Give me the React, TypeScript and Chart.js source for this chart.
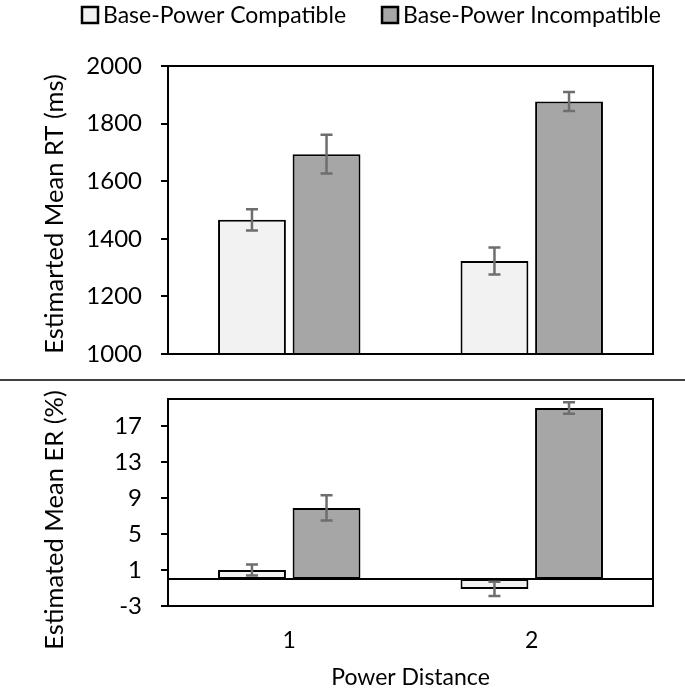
import React, { useEffect, useRef } from "react";
import { Chart, registerables } from "chart.js";
Chart.register(...registerables);

// ---------- data ----------
const CATEGORIES = ["1", "2"];
const SERIES_LABELS = ["Base-Power Compatible", "Base-Power Incompatible"];

const RT_COMPATIBLE = [1466, 1323];
const RT_INCOMPATIBLE = [1694, 1877];
const RT_COMPATIBLE_ERR = [37, 47];
const RT_INCOMPATIBLE_ERR = [67, 33];

const ER_COMPATIBLE = [1.0, -1.1];
const ER_INCOMPATIBLE = [7.9, 19.0];
const ER_COMPATIBLE_ERR = [0.6, 0.8];
const ER_INCOMPATIBLE_ERR = [1.4, 0.65];

const RT_TICKS = [1000, 1200, 1400, 1600, 1800, 2000];
const ER_TICKS = [-3, 1, 5, 9, 13, 17];
const RT_RANGE = [1000, 2000];
const ER_RANGE = [-3, 20];

const RT_TITLE = "Estimarted Mean RT (ms)";
const ER_TITLE = "Estimated Mean ER (%)";
const X_TITLE = "Power Distance";

// ---------- styles ----------
const FONT = "Lato, 'Open Sans', sans-serif";
const TEXT = "#000000";
const FILLS = ["#f2f2f2", "#a6a6a6"];

// frame + zero line
const decorPlugin = {
  id: "decor",
  afterDatasetsDraw(chart: any, _a: any, opts: any) {
    const { ctx, chartArea: ca } = chart;
    ctx.save();
    ctx.strokeStyle = "#000";
    ctx.lineWidth = 2;
    if (opts.zeroLine) {
      const y0 = chart.scales.y.getPixelForValue(0);
      ctx.beginPath();
      ctx.moveTo(ca.left, y0);
      ctx.lineTo(ca.right, y0);
      ctx.stroke();
    }
    ctx.strokeRect(ca.left, ca.top, ca.right - ca.left, ca.bottom - ca.top);
    ctx.restore();
  },
};

const errorBarPlugin = {
  id: "errorBars",
  afterDatasetsDraw(chart: any) {
    const { ctx } = chart;
    const y = chart.scales.y;
    ctx.save();
    ctx.strokeStyle = "#6e6e6e";
    ctx.lineWidth = 2.5;
    chart.data.datasets.forEach((ds: any, i: number) => {
      const meta = chart.getDatasetMeta(i);
      const errs = ds.errorBars || [];
      meta.data.forEach((bar: any, j: number) => {
        const v = ds.data[j];
        const e = errs[j];
        if (e == null) return;
        const yHi = y.getPixelForValue(v + e);
        const yLo = y.getPixelForValue(v - e);
        const x = bar.x;
        const cap = 6;
        ctx.beginPath();
        ctx.moveTo(x, yHi);
        ctx.lineTo(x, yLo);
        ctx.moveTo(x - cap, yHi);
        ctx.lineTo(x + cap, yHi);
        ctx.moveTo(x - cap, yLo);
        ctx.lineTo(x + cap, yLo);
        ctx.stroke();
      });
    });
    ctx.restore();
  },
};

const legendPlugin = {
  id: "customLegend",
  afterDraw(chart: any, _a: any, opts: any) {
    if (!opts.show) return;
    const { ctx } = chart;
    ctx.save();
    ctx.font = `23px ${FONT}`;
    ctx.textBaseline = "middle";
    ctx.textAlign = "left";
    let x = opts.x;
    const yc = opts.y;
    const box = 16;
    chart.data.datasets.forEach((ds: any) => {
      ctx.fillStyle = ds.backgroundColor;
      ctx.fillRect(x, yc - box / 2, box, box);
      ctx.strokeStyle = "#000";
      ctx.lineWidth = 2.5;
      ctx.strokeRect(x, yc - box / 2, box, box);
      ctx.fillStyle = TEXT;
      ctx.fillText(ds.label, x + box + 5, yc + 1);
      x += box + 5 + ctx.measureText(ds.label).width + 36;
    });
    ctx.restore();
  },
};

const sideTitlePlugin = {
  id: "sideTitle",
  afterDraw(chart: any, _a: any, opts: any) {
    if (!opts.text) return;
    const { ctx } = chart;
    ctx.save();
    ctx.font = `25.5px ${FONT}`;
    ctx.fillStyle = TEXT;
    ctx.textAlign = "center";
    ctx.textBaseline = "middle";
    ctx.translate(opts.x, opts.y);
    ctx.rotate(-Math.PI / 2);
    ctx.fillText(opts.text, 0, 0);
    ctx.restore();
  },
};

function makeDatasets(a: number[], b: number[], ea: number[], eb: number[]) {
  return [a, b].map((d, i) => ({
    label: SERIES_LABELS[i],
    data: d,
    errorBars: i === 0 ? ea : eb,
    backgroundColor: FILLS[i],
    borderColor: "#000",
    borderWidth: 2,
    borderSkipped: false,
    categoryPercentage: 0.615,
    barPercentage: 0.91,
  }));
}

function yAxis(range: number[], ticks: number[]) {
  return {
    min: range[0],
    max: range[1],
    afterBuildTicks: (s: any) => {
      s.ticks = ticks.map((v) => ({ value: v }));
    },
    afterFit: (s: any) => {
      s.width = 168;
      s.paddingTop = 0;
      s.paddingBottom = 0;
    },
    border: { display: false },
    grid: {
      drawOnChartArea: false,
      drawTicks: true,
      tickLength: 7,
      color: "#000",
      lineWidth: 2,
    },
    ticks: {
      padding: 19,
      color: TEXT,
      font: { size: 24, family: FONT },
      callback: (v: any) => String(v),
    },
  };
}

export default function App() {
  const topRef = useRef<HTMLCanvasElement>(null);
  const botRef = useRef<HTMLCanvasElement>(null);

  useEffect(() => {
    Chart.defaults.font.family = FONT;
    Chart.defaults.color = TEXT;

    const top = new Chart(topRef.current as HTMLCanvasElement, {
      type: "bar",
      data: {
        labels: CATEGORIES,
        datasets: makeDatasets(RT_COMPATIBLE, RT_INCOMPATIBLE, RT_COMPATIBLE_ERR, RT_INCOMPATIBLE_ERR) as any,
      },
      options: {
        responsive: false,
        animation: false,
        layout: { padding: { top: 66, right: 32, bottom: 24, left: 0 } },
        scales: {
          x: { display: false },
          y: yAxis(RT_RANGE, RT_TICKS) as any,
        },
        plugins: {
          legend: { display: false },
          tooltip: { enabled: false },
          decor: { zeroLine: false },
          customLegend: { show: true, x: 82, y: 15 },
          sideTitle: { text: RT_TITLE, x: 55, y: 214 },
        } as any,
      },
      plugins: [decorPlugin, errorBarPlugin, legendPlugin, sideTitlePlugin],
    });

    const bot = new Chart(botRef.current as HTMLCanvasElement, {
      type: "bar",
      data: {
        labels: CATEGORIES,
        datasets: makeDatasets(ER_COMPATIBLE, ER_INCOMPATIBLE, ER_COMPATIBLE_ERR, ER_INCOMPATIBLE_ERR) as any,
      },
      options: {
        responsive: false,
        animation: false,
        layout: { padding: { top: 18, right: 32, bottom: 0, left: 0 } },
        scales: {
          x: {
            afterFit: (s: any) => {
              s.height = 85;
              s.paddingLeft = 0;
              s.paddingRight = 0;
            },
            border: { display: false },
            grid: { display: false },
            ticks: { padding: 13, color: TEXT, font: { size: 23, family: FONT } },
            title: {
              display: true,
              text: X_TITLE,
              color: TEXT,
              font: { size: 23, family: FONT },
              padding: { top: 0, bottom: 0 },
            },
          },
          y: yAxis(ER_RANGE, ER_TICKS) as any,
        },
        plugins: {
          legend: { display: false },
          tooltip: { enabled: false },
          decor: { zeroLine: true },
          customLegend: { show: false },
          sideTitle: { text: ER_TITLE, x: 55, y: 139 },
        } as any,
      },
      plugins: [decorPlugin, errorBarPlugin, legendPlugin, sideTitlePlugin],
    });

    return () => {
      top.destroy();
      bot.destroy();
    };
  }, []);

  return (
    <div style={{ position: "fixed", left: 0, top: 0, width: 685, height: 691, background: "#fff" }}>
      <canvas ref={topRef} width={685} height={378} style={{ position: "absolute", left: 0, top: 0 }} />
      <div style={{ position: "absolute", left: 0, top: 379, width: 685, height: 2, background: "#404040" }} />
      <canvas ref={botRef} width={685} height={310} style={{ position: "absolute", left: 0, top: 381 }} />
    </div>
  );
}
